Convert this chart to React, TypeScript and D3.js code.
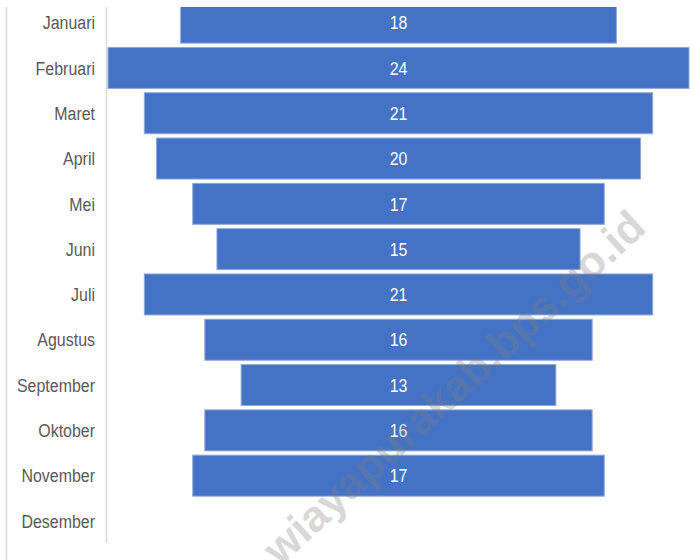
import React from "react";
import * as d3 from "d3";

const months = ["Januari","Februari","Maret","April","Mei","Juni","Juli","Agustus","September","Oktober","November","Desember"];
const values: (number | null)[] = [18,24,21,20,17,15,21,16,13,16,17,null];
const watermark = "wiayapurakab.bps.go.id";

const W = 694, H = 560;
const font = "'Liberation Sans', Arial, sans-serif";
const SX = 0.84;

export default function App() {
  const y = d3.scaleBand<string>().domain(months).range([0, 543.6]).paddingInner(0.095).paddingOuter(0.047);
  const maxV = d3.max(values.filter((v): v is number => v != null)) as number;
  const x = d3.scaleLinear().domain([-maxV / 2, maxV / 2]).range([108, 689]);
  return (
    <svg width={W} height={H} style={{ position: "absolute", left: 0, top: 0, background: "#fff" }}>
      <defs>
        <clipPath id="clipTop"><rect x={0} y={7} width={W} height={H - 7} /></clipPath>
      </defs>
      <g clipPath="url(#clipTop)">
        <line x1={6.5} x2={6.5} y1={7} y2={H} stroke="#d9d9d9" strokeWidth={1.5} />
        <line x1={106.5} x2={106.5} y1={7} y2={543} stroke="#d9d9d9" strokeWidth={1.5} />
        {months.map((m, i) => {
          const v = values[i];
          const yc = (y(m) as number) + y.bandwidth() / 2;
          return (
            <g key={m}>
              <text transform={`translate(95,${yc}) scale(${SX},1)`} dy="0.35em" textAnchor="end" fontFamily={font} fontSize={19} fill="#595959">{m}</text>
              {v != null && (
                <>
                  <rect x={x(-v / 2)} y={y(m)} width={x(v / 2) - x(-v / 2)} height={y.bandwidth()} fill="#4472C4" stroke="#8fa9dc" strokeWidth={1} />
                  <text transform={`translate(${x(0)},${yc}) scale(${SX},1)`} dy="0.35em" textAnchor="middle" fontFamily={font} fontSize={19} fill="#ffffff">{v}</text>
                </>
              )}
            </g>
          );
        })}
        <text transform="translate(648,230) rotate(-42.5)" textAnchor="end" fontFamily={font} fontWeight="bold" fontSize={44} fill="#7f7f7f" opacity={0.3}>{watermark}</text>
      </g>
    </svg>
  );
}
